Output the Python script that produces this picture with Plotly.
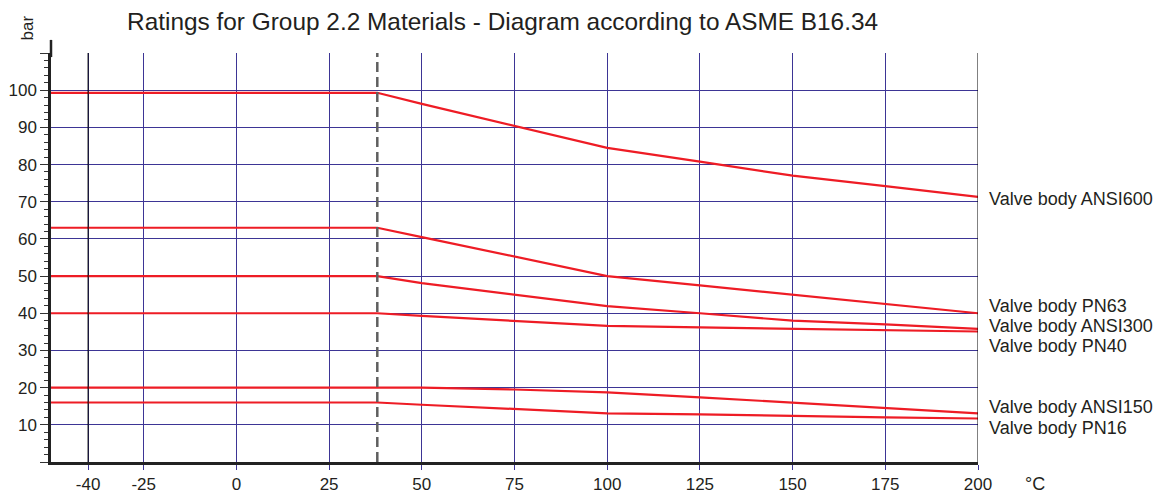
import plotly.graph_objects as go

# ---- data ----
temps_c = [-50, 38, 50, 75, 100, 125, 150, 175, 200]
series_names = ["Valve body ANSI600", "Valve body PN63", "Valve body ANSI300",
                "Valve body PN40", "Valve body ANSI150", "Valve body PN16"]
ansi600 = [99.3, 99.3, 96.3, 90.4, 84.5, 80.8, 77.0, 74.2, 71.3]
pn63 = [63.0, 63.0, 60.5, 55.2, 50.0, 47.5, 45.0, 42.5, 40.0]
ansi300 = [50.0, 50.0, 48.1, 44.9, 41.9, 40.0, 38.0, 37.0, 35.8]
pn40 = [40.0, 40.0, 39.3, 37.9, 36.6, 36.2, 35.9, 35.5, 35.1]
ansi150 = [20.0, 20.0, 20.0, 19.5, 18.7, 17.4, 15.9, 14.4, 13.1]
pn16 = [16.0, 16.0, 15.4, 14.3, 13.1, 12.8, 12.3, 12.0, 11.7]
series_values = [ansi600, pn63, ansi300, pn40, ansi150, pn16]

x_tickvals = [-40, -25, 0, 25, 50, 75, 100, 125, 150, 175, 200]
x_ticktext = ["-40", "-25", "0", "25", "50", "75", "100", "125", "150", "175", "200"]
y_tickvals = [0, 10, 20, 30, 40, 50, 60, 70, 80, 90, 100, 110]
y_ticktext = ["", "10", "20", "30", "40", "50", "60", "70", "80", "90", "100", ""]
dashed_temp = 38

title_text = "Ratings for Group 2.2 Materials - Diagram according to ASME B16.34"

# ---- style ----
FONT = "Liberation Sans, Arial, sans-serif"
TXT = "#231f20"
GRID = "#3d3595"
RED = "#ee1c25"
label_yshift = [-2, 7, 3, -15, 6, -9]

fig = go.Figure()
for name, vals in zip(series_names, series_values):
    fig.add_trace(go.Scatter(x=temps_c, y=vals, mode="lines", name=name,
                             line=dict(color=RED, width=2.2), showlegend=False,
                             hoverinfo="x+y+name"))

# label annotations at line ends
for name, vals, ys in zip(series_names, series_values, label_yshift):
    fig.add_annotation(x=temps_c[-1], y=vals[-1], xref="x", yref="y",
                       text=name, showarrow=False, xanchor="left", yanchor="middle",
                       xshift=9, yshift=ys,
                       font=dict(family=FONT, size=18, color=TXT))

# special vertical lines
fig.add_shape(type="line", xref="x", yref="y", x0=-40, x1=-40, y0=0, y1=110,
              line=dict(color="black", width=1), layer="above")
fig.add_shape(type="line", xref="x", yref="y", x0=200, x1=200, y0=0, y1=110,
              line=dict(color="black", width=1), layer="above")
fig.add_shape(type="line", xref="x", yref="y", x0=dashed_temp, x1=dashed_temp, y0=0, y1=110,
              line=dict(color="#5f5f5f", width=2.5, dash="10px,5px"), layer="above")
# y axis extension above plot area
fig.add_shape(type="line", xref="paper", yref="paper", x0=0, x1=0, y0=0.99, y1=1.032,
              line=dict(color="#222", width=2.5))

fig.add_annotation(text="bar", xref="paper", yref="paper", x=-0.025, y=1.062,
                   textangle=-90, showarrow=False, xanchor="center", yanchor="middle",
                   font=dict(family=FONT, size=17, color=TXT))
fig.add_annotation(text="°C", xref="paper", yref="paper", x=1.061, y=-0.053,
                   showarrow=False, xanchor="center", yanchor="middle",
                   font=dict(family=FONT, size=18, color=TXT))

# page body has an 8px margin: figure is placed at (8, 8)
fig.update_layout(
    width=1157, height=487,
    margin=dict(l=43, r=187, t=45, b=33, autoexpand=False),
    paper_bgcolor="white", plot_bgcolor="white",
    title=dict(text=title_text, xref="container", yref="container",
               x=0.1029, y=0.973, xanchor="left", yanchor="middle",
               font=dict(family=FONT, size=24.4, color=TXT)),
    font=dict(family=FONT, size=17, color=TXT),
    xaxis=dict(range=[-50, 200], tickmode="array", tickvals=x_tickvals, ticktext=x_ticktext,
               showgrid=True, gridcolor=GRID, gridwidth=1, automargin=False,
               showline=True, linecolor="#222", linewidth=3,
               ticks="outside", ticklen=5, tickcolor=GRID, tickwidth=1,
               zeroline=False, ticklabelstandoff=0,
               tickfont=dict(family=FONT, size=17, color=TXT)),
    yaxis=dict(range=[0, 110], tickmode="array", tickvals=y_tickvals, ticktext=y_ticktext,
               showgrid=True, gridcolor=GRID, gridwidth=1, automargin=False,
               showline=True, linecolor="#222", linewidth=2.5,
               ticks="outside", ticklen=8, tickcolor="#333", tickwidth=1,
               zeroline=False, ticklabelstandoff=0,
               minor=dict(dtick=2, tick0=0, ticks="outside", ticklen=4, tickcolor="#333",
                          tickwidth=1, showgrid=False),
               tickfont=dict(family=FONT, size=17, color=TXT)),
)

fig.write_html("out.html")
